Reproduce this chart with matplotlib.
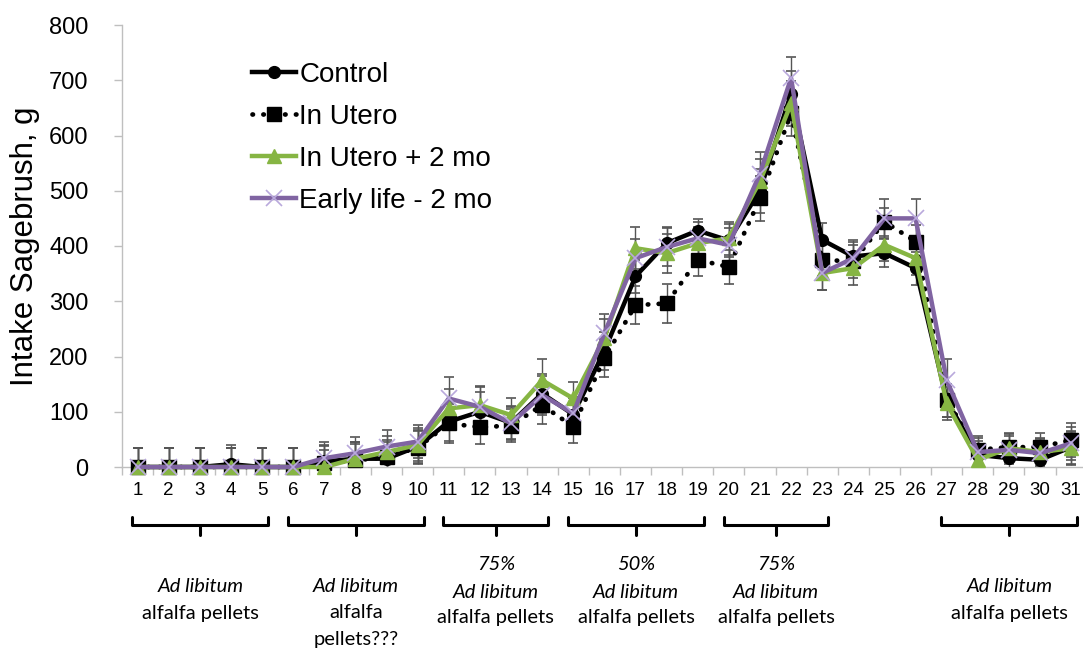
import matplotlib
matplotlib.use("Agg")
import matplotlib.pyplot as plt
import numpy as np

# dias del ensayo
days = list(range(1, 32))

control = [0, 0, 0, 5, 0, 0, 10, 15, 15, 37, 82, 100, 80, 133, 95,
           210, 345, 405, 428, 410, 500, 676, 411, 381, 387, 360, 121, 22, 16, 13, 36]
in_utero = [0, 0, 0, 0, 0, 0, 8, 12, 18, 35, 79, 72, 75, 112, 73,
            197, 293, 296, 375, 362, 486, 640, 375, 372, 444, 408, 121, 31, 36, 36, 49]
in_utero_2mo = [0, 0, 0, 0, 0, 0, 0, 15, 27, 40, 106, 112, 94, 157, 124,
                233, 396, 387, 405, 414, 517, 658, 351, 360, 402, 378, 115, 13, 34, 27, 34]
early_life = [0, 0, 0, 0, 0, 0, 16, 25, 37, 46, 124, 109, 79, 130, 97,
              242, 378, 398, 414, 402, 531, 704, 351, 378, 450, 450, 157, 27, 31, 25, 43]

control_err = [35, 35, 35, 35, 35, 35, 30, 30, 30, 30, 35, 35, 30, 35, 30,
               35, 30, 30, 20, 30, 40, 40, 30, 30, 25, 30, 30, 25, 25, 25, 30]
in_utero_err = [35, 35, 35, 35, 35, 35, 30, 30, 30, 30, 35, 30, 30, 35, 30,
                35, 35, 35, 30, 30, 40, 40, 30, 30, 25, 30, 30, 25, 25, 25, 30]
in_utero_2mo_err = [35, 35, 35, 35, 35, 35, 30, 30, 30, 30, 35, 35, 30, 38, 30,
                    35, 38, 35, 30, 30, 40, 40, 30, 30, 30, 30, 30, 25, 25, 25, 30]
early_life_err = [35, 35, 35, 35, 35, 35, 30, 30, 30, 30, 38, 35, 30, 35, 30,
                  35, 35, 35, 30, 30, 40, 38, 30, 30, 35, 35, 38, 25, 25, 25, 30]

# periodos de alimentacion (dia inicial, dia final, lineas de texto)
period_start = [1, 6, 11, 15, 20, 27]
period_end = [5, 10, 14, 19, 23, 31]
period_pct = ["", "", "75%", "50%", "75%", ""]
period_text = [["alfalfa pellets"], ["alfalfa", "pellets???"], ["alfalfa pellets"],
               ["alfalfa pellets"], ["alfalfa pellets"], ["alfalfa pellets"]]

W, H = 1083, 650
fig = plt.figure(figsize=(W / 100, H / 100), dpi=100)
x0, y0 = 122, 467
dx = 31.12
ax = fig.add_axes([x0 / W, (H - y0) / H, 31 * dx / W, (y0 - 25) / H])

green = "#86b543"
purple = "#8064a2"
ecol = "#555555"

for vals, err in [(control, control_err), (in_utero, in_utero_err),
                  (in_utero_2mo, in_utero_2mo_err), (early_life, early_life_err)]:
    ax.errorbar(days, vals, yerr=err, fmt="none", ecolor=ecol, elinewidth=1,
                capsize=3.5, capthick=1.2, zorder=2)

ax.plot(days, control, "-", color="black", lw=3.2, marker="o", ms=8.5,
        label="Control", clip_on=False, zorder=3)
ax.plot(days, in_utero, color="black", lw=3.4, linestyle=(0, (0.1, 2.2)),
        dash_capstyle="round", marker="s", ms=9.5, label="In Utero",
        clip_on=False, zorder=4)
ax.plot(days, in_utero_2mo, "-", color=green, lw=3.2, marker="^", ms=10,
        label="In Utero + 2 mo", clip_on=False, zorder=5)
ax.plot(days, early_life, "-", color=purple, lw=3.2, marker="x", ms=11,
        mec="#b9a9dc", mew=1.2, label="Early life - 2 mo", clip_on=False, zorder=6)

ax.set_xlim(0.5, 31.5)
ax.set_ylim(0, 800)
ax.set_yticks(np.arange(0, 801, 100))
ax.set_xticks(days)
ax.set_xticks(np.arange(0.5, 32, 1), minor=True)
ax.set_xticklabels([str(d) for d in days], family=["Liberation Sans Narrow", "Liberation Sans"],
                   fontsize=13.5)
ax.tick_params(axis="x", which="major", length=0, pad=11)
ax.tick_params(axis="x", which="minor", length=6, color="#bfbfbf", width=1)
ax.tick_params(axis="y", length=6, color="#bfbfbf", width=1, pad=18, labelsize=17)
for lab in ax.get_yticklabels():
    lab.set_family(["Liberation Sans", "DejaVu Sans"])

for s in ["top", "right"]:
    ax.spines[s].set_visible(False)
ax.spines["left"].set_color("#bfbfbf")
ax.spines["bottom"].set_color("#bfbfbf")
ax.spines["left"].set_linewidth(1)
ax.spines["bottom"].set_linewidth(1)

ax.set_ylabel("Intake Sagebrush, g", fontsize=22.5, family=["Liberation Sans", "DejaVu Sans"])
ax.yaxis.set_label_coords(-(x0 - 40) / (31 * dx), 0.5)

leg = ax.legend(loc="upper left", bbox_to_anchor=(252 / W, 1 - 62 / H),
                bbox_transform=fig.transFigure, frameon=False,
                handlelength=1.6, handletextpad=0.1, labelspacing=0.57,
                borderpad=0, borderaxespad=0,
                prop={"family": ["Liberation Sans", "DejaVu Sans"], "size": 20})

# corchetes y textos bajo el eje
tr = ax.get_xaxis_transform()
px = 1.0 / (y0 - 25)
tfont = ["Lato", "DejaVu Sans"]
tsize = 14.5
for a, b, pct, lines in zip(period_start, period_end, period_pct, period_text):
    xa, xb = a - 0.17, b + 0.2
    xc = (xa + xb) / 2
    y_top, y_mid, y_bot = -(517 - y0) * px, -(525 - y0) * px, -(535 - y0) * px
    ax.plot([xa, xa, xb, xb], [y_top, y_mid, y_mid, y_top], color="black", lw=2.2,
            transform=tr, clip_on=False, solid_joinstyle="round", solid_capstyle="round")
    ax.plot([xc, xc], [y_mid, y_bot], color="black", lw=2.2, transform=tr,
            clip_on=False, solid_capstyle="round")
    if pct:
        ys = [565, 592, 618, 645]
    else:
        ys = [587, 613, 640]
    k = 0
    if pct:
        ax.text(xc, -(ys[k] - y0) * px, pct, transform=tr, ha="center", va="center",
                fontsize=tsize, style="italic", family=tfont)
        k += 1
    ax.text(xc, -(ys[k] - y0) * px, "Ad libitum", transform=tr, ha="center", va="center",
            fontsize=tsize, style="italic", family=tfont)
    k += 1
    for line in lines:
        ax.text(xc, -(ys[k] - y0) * px, line, transform=tr, ha="center", va="center",
                fontsize=tsize, family=tfont)
        k += 1

fig.savefig("out.png", dpi=100)
